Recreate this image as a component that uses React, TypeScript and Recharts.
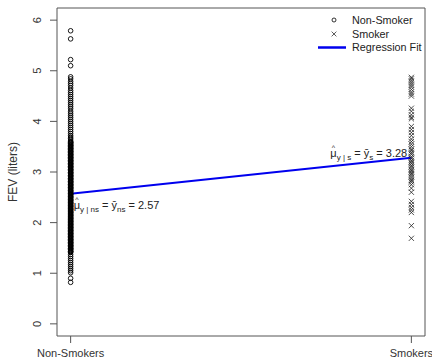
import { ComposedChart, Scatter, Line, XAxis, YAxis, ReferenceArea, ReferenceDot } from 'recharts';

// FEV values
const nonSmokerFev = [
  5.79, 5.63, 5.22, 5.10, 4.88, 4.84, 4.79, 4.75, 4.71, 4.66, 4.61, 4.57, 4.53, 4.49, 4.45, 4.41,
  4.37, 4.33, 4.29, 4.25, 4.20, 4.16, 4.12, 4.08, 4.04, 4.00, 3.96, 3.92, 3.88, 3.84, 3.80, 3.76,
  3.72, 3.69, 3.66, 3.63, 3.60, 3.57, 3.54, 3.51, 3.48, 3.45, 3.42, 3.39, 3.36, 3.33, 3.30, 3.27,
  3.24, 3.21, 3.18, 3.15, 3.12, 3.09, 3.06, 3.03, 3.00, 2.97, 2.94, 2.91, 2.88, 2.85, 2.82, 2.79,
  2.76, 2.73, 2.70, 2.67, 2.64, 2.61, 2.58, 2.55, 2.52, 2.49, 2.46, 2.43, 2.40, 2.37, 2.34, 2.31,
  2.28, 2.25, 2.22, 2.19, 2.16, 2.13, 2.10, 2.07, 2.04, 2.01, 1.98, 1.95, 1.92, 1.89, 1.86, 1.83,
  1.80, 1.77, 1.74, 1.71, 1.68, 1.65, 1.62, 1.59, 1.56, 1.53, 1.50, 1.47, 1.44, 1.41, 1.37, 1.33,
  1.29, 1.25, 1.21, 1.17, 1.13, 1.09, 1.05, 1.01, 0.90, 0.82,
  // the many repeated values in the solid part of the column
  3.59, 3.56, 3.53, 3.50, 3.47, 3.44, 3.41, 3.38, 3.35, 3.32, 3.29, 3.26, 3.23, 3.20, 3.17, 3.14,
  3.11, 3.08, 3.05, 3.02, 2.99, 2.96, 2.93, 2.90, 2.87, 2.84, 2.81, 2.78, 2.75, 2.72, 2.69, 2.66,
  2.63, 2.60, 2.57, 2.54, 2.51, 2.48, 2.45, 2.42, 2.39, 2.36, 2.33, 2.30, 2.27, 2.24, 2.21, 2.18,
  2.15, 2.12, 2.09, 2.06, 2.03, 2.00, 1.97, 1.94, 1.91, 1.88, 1.85, 1.82, 1.79, 1.76, 1.73, 1.70,
  1.67, 1.64, 1.61, 1.58, 1.55, 1.52, 1.49, 1.46, 1.43,
  3.585, 3.525, 3.465, 3.405, 3.345, 3.285, 3.225, 3.165, 3.105, 3.045, 2.985, 2.925, 2.865, 2.805,
  2.745, 2.685, 2.625, 2.565, 2.505, 2.445, 2.385, 2.325, 2.265, 2.205, 2.145, 2.085, 2.025, 1.965,
  1.905, 1.845, 1.785, 1.725, 1.665, 1.605, 1.545, 1.485, 1.425,
];
const smokerFev = [
  4.87, 4.84, 4.80, 4.76, 4.72, 4.68, 4.63, 4.58, 4.54, 4.50, 4.26, 4.20, 4.13, 4.08, 4.05,
  3.90, 3.84, 3.78, 3.72, 3.65, 3.60, 3.55, 3.50, 3.45, 3.42, 3.38, 3.35, 3.30, 3.27, 3.23,
  3.20, 3.17, 3.13, 3.10, 3.06, 3.03, 3.00, 2.97, 2.94, 2.90, 2.86, 2.83, 2.80, 2.75, 2.68,
  2.60, 2.42, 2.36, 2.30, 2.25, 2.20, 1.94, 1.69,
];
const groupLabels = ['Non-Smokers', 'Smokers'];
const fitMeans = [2.57, 3.28];
const yTicks = [0, 1, 2, 3, 4, 5, 6];

const nsData = nonSmokerFev.map((v) => ({ x: 0, y: v }));
const sData = smokerFev.map((v) => ({ x: 1, y: v }));
const fitData = fitMeans.map((v, i) => ({ x: i, y: v }));

const FONT = 'Liberation Sans, Arial, sans-serif';

const Circle = (p: any) => (
  <circle cx={p.cx} cy={p.cy} r={2.3} fill="none" stroke="#000" strokeWidth={0.9} />
);
const Cross = (p: any) => (
  <g stroke="#222" strokeWidth={0.8}>
    <line x1={p.cx - 2.6} y1={p.cy - 2.6} x2={p.cx + 2.6} y2={p.cy + 2.6} />
    <line x1={p.cx - 2.6} y1={p.cy + 2.6} x2={p.cx + 2.6} y2={p.cy - 2.6} />
  </g>
);

const YTick = ({ x, y, payload }: any) => (
  <text x={x - 7} y={y} transform={`rotate(-90 ${x - 7} ${y})`} textAnchor="middle"
    fontSize={11} fill="#333" fontFamily={FONT}>{payload.value}</text>
);

const MuLabel = ({ x, y, sub, val }: { x: number; y: number; sub: string; val: number }) => (
  <g fontFamily={FONT} fill="#222">
    <text x={x + 1.5} y={y - 7} fontSize={7}>^</text>
    <text x={x} y={y} fontSize={11}>
      <tspan>μ</tspan>
      <tspan fontSize={8} dy={3}>{`y | ${sub}`}</tspan>
      <tspan dy={-3}>{' = ȳ'}</tspan>
      <tspan fontSize={8} dy={3}>{sub}</tspan>
      <tspan dy={-3}>{` = ${val.toFixed(2)}`}</tspan>
    </text>
  </g>
);

const LegendBox = () => (
  <svg width={118} height={48} style={{ fontFamily: FONT, position: 'absolute', left: 314, top: 9 }}>
    <circle cx={20} cy={11} r={2} fill="none" stroke="#000" strokeWidth={0.8} />
    <text x={38} y={15} fontSize={10.8} fill="#222">Non-Smoker</text>
    <g stroke="#333" strokeWidth={0.8}>
      <line x1={17.6} y1={22.6} x2={22.4} y2={27.4} />
      <line x1={17.6} y1={27.4} x2={22.4} y2={22.6} />
    </g>
    <text x={38} y={29} fontSize={10.8} fill="#222">Smoker</text>
    <line x1={4} y1={38.5} x2={32} y2={38.5} stroke="#0000ee" strokeWidth={2.5} />
    <text x={38} y={42} fontSize={10.8} fill="#222">Regression Fit</text>
  </svg>
);

export default function App() {
  return (
    <div style={{ position: 'fixed', left: 0, top: 0, width: 432, height: 360, background: '#fff' }}>
      <ComposedChart width={432} height={360} margin={{ top: 8, right: 7, left: 7, bottom: 0 }}>
        <XAxis dataKey="x" type="number" domain={[-0.04, 1.04]} ticks={[0, 1]} allowDataOverflow
          tickFormatter={(v) => groupLabels[v]} tickSize={7} height={24} axisLine={false}
          tick={{ fontSize: 11, fill: '#333', fontFamily: FONT }} stroke="#555" tickMargin={6} />
        <YAxis dataKey="y" type="number" domain={[-0.24, 6.24]} ticks={yTicks} allowDataOverflow
          width={50} tickSize={7} axisLine={false} stroke="#555" tick={<YTick />}
          label={{ value: 'FEV (liters)', angle: -90, position: 'insideLeft', offset: 0, dx: 6,
            style: { fontSize: 12, fill: '#333', fontFamily: FONT, textAnchor: 'middle' } }} />
        <ReferenceArea x1={-0.04} x2={1.04} y1={-0.24} y2={6.24} fill="none" stroke="#555" strokeWidth={1} />
        <Scatter data={nsData} shape={Circle} isAnimationActive={false} />
        <Scatter data={sData} shape={Cross} isAnimationActive={false} />
        <Line data={fitData} dataKey="y" stroke="#0000ee" strokeWidth={2} dot={false} isAnimationActive={false} />
        <ReferenceDot x={0} y={fitMeans[0]} r={1} ifOverflow="visible"
          shape={(p: any) => <MuLabel x={p.cx + 3} y={p.cy + 15} sub="ns" val={fitMeans[0]} />} />
        <ReferenceDot x={1} y={fitMeans[1]} r={1} ifOverflow="visible"
          shape={(p: any) => <MuLabel x={p.cx - 81} y={p.cy - 1} sub="s" val={fitMeans[1]} />} />
      </ComposedChart>
      <LegendBox />
    </div>
  );
}
